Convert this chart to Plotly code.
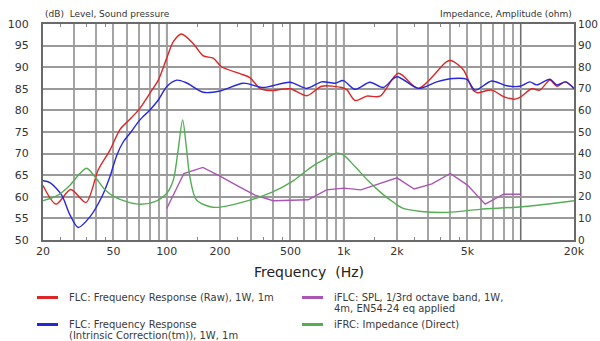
import plotly.graph_objects as go

# ── Datos ───────────────────────────────────────────────────────────────────
FREQ_RAW = [20, 23.7, 28.7, 35, 41, 47.8, 54.5, 60.7, 70, 80.4, 89.6, 100, 109, 121,
            141, 161, 183, 204, 259, 295, 336, 383, 497, 618, 751, 974, 1040, 1158,
            1349, 1604, 2035, 2637, 3817, 4075, 4740, 5397, 5700, 6856, 8000, 9285,
            9900, 11540, 12800, 14630, 16000, 17800, 20000]
SPL_RAW = [62.6, 58.3, 61.7, 58.7, 66.2, 70.8, 75.6, 77.6, 80.3, 84.0, 87.0, 92.1, 95.9, 97.7,
           95.5, 92.6, 92.1, 90.1, 88.5, 87.6, 85.1, 84.6, 85.0, 83.4, 85.6, 85.3, 84.8, 82.3,
           83.3, 83.3, 88.6, 85.1, 91.3, 91.5, 89.4, 84.6, 84.1, 84.7, 83.2, 82.6,
           83.0, 85.0, 84.7, 87.0, 85.6, 86.6, 85.1]

FREQ_IC = [20, 21.9, 25.5, 28.4, 31.6, 36.9, 43, 47.8, 52.3, 57, 62, 70.6, 80.4, 89.6,
           100, 114, 129, 161, 200, 271, 350, 497, 618, 751, 893, 995, 1158, 1407,
           1673, 1991, 2637, 3350, 4160, 4955, 5520, 6856, 8330, 9906, 11280, 12300,
           14630, 16000, 18000, 20000]
SPL_IC = [63.7, 63.3, 60.4, 55.8, 52.9, 55.4, 60.0, 64.7, 69.7, 72.8, 74.7, 77.8, 80.1, 82.4,
          85.5, 87.0, 86.4, 84.2, 84.5, 86.3, 85.3, 86.5, 85.1, 86.6, 86.3, 86.9, 84.9, 86.5,
          85.3, 87.8, 85.1, 86.6, 87.4, 87.2, 84.7, 86.8, 85.7, 85.6, 86.6, 85.9,
          87.2, 85.9, 86.6, 85.0]

BANDAS = [100, 125, 160, 200, 250, 315, 400, 500, 630, 800, 1000, 1250, 1600, 2000,
          2500, 3150, 4000, 5000, 6300, 8000, 10000]
SPL_BANDAS = [57.3, 65.4, 66.8, 64.8, 62.6, 60.4, 59.1, 59.2, 59.3, 61.6, 62.0, 61.6, 63.0,
              64.4, 61.8, 63.0, 65.4, 62.7, 58.3, 60.6, 60.6]

FREQ_Z = [20, 23.9, 28.4, 32.3, 35.3, 39.2, 44.9, 52.3, 69, 85.9, 100, 109, 116, 123,
          129, 135, 147, 176, 200, 288, 391, 510, 605, 691, 782, 913, 995, 1158, 1376,
          1640, 1944, 2168, 2740, 3870, 5880, 10130, 20000]
IMPEDANCIA = [18.2, 20.4, 25.4, 30.8, 33.2, 29.4, 23.2, 19.4, 16.6, 17.8, 21.6, 27.8, 41.6, 55.6,
              43.2, 29.4, 18.6, 15.4, 15.2, 18.2, 22.0, 27.0, 31.6, 35.0, 37.4, 40.2, 39.4, 34.0, 27.4,
              21.6, 17.0, 14.6, 13.2, 12.8, 14.2, 15.4, 18.2]

ETIQUETAS_X = {20: "20", 50: "50", 100: "100", 200: "200", 500: "500", 1000: "1k",
               2000: "2k", 5000: "5k", 10000: "10k", 20000: "20k"}

# ── Paleta ──────────────────────────────────────────────────────────────────
COLORES = {
    "rojo":    "#dd2626",
    "azul":    "#2626dd",
    "violeta": "#aa55b4",
    "verde":   "#55ad55",
    "texto":   "#333333",
    "grilla":  "#a4a4a4",
    "borde":   "#6a6a6a",
}
FUENTE = "DejaVu Sans"

# grilla logarítmica 20 .. 20k
grid_x = [m * 10 ** d for d in (1, 2, 3) for m in range(1, 10)] + [20000]
grid_x = [v for v in grid_x if 20 <= v <= 20000]
texto_x = [ETIQUETAS_X.get(v, "") for v in grid_x]
menores_x = [m * 10 ** d for d in (1, 2, 3) for m in (1.5, 2.5, 3.5, 4.5)]
menores_x = [v for v in menores_x if 20 < v < 20000]

fig = go.Figure()
fig.add_trace(go.Scatter(x=FREQ_RAW, y=SPL_RAW, mode="lines",
                         line=dict(color=COLORES["rojo"], width=1.4, shape="spline", smoothing=0.8)))
fig.add_trace(go.Scatter(x=FREQ_IC, y=SPL_IC, mode="lines",
                         line=dict(color=COLORES["azul"], width=1.4, shape="spline", smoothing=0.8)))
fig.add_trace(go.Scatter(x=BANDAS, y=SPL_BANDAS, mode="lines",
                         line=dict(color=COLORES["violeta"], width=1.4)))
fig.add_trace(go.Scatter(x=FREQ_Z, y=IMPEDANCIA, mode="lines", yaxis="y2",
                         line=dict(color=COLORES["verde"], width=1.4, shape="spline", smoothing=0.8)))

# líneas de década más oscuras
for v in (100, 1000, 10000):
    fig.add_shape(type="line", xref="x", yref="paper", x0=v, x1=v, y0=0, y1=1,
                  line=dict(color="#707070", width=1.6), layer="below")

# ── Leyenda manual (2 columnas) ─────────────────────────────────────────────
W, H, L, B = 531, 216, 43, 240   # área de trazado en px


def px_x(x):
    return (x - L) / W


def px_y(y):
    return (B - y) / H


items = [
    (37, 297.5, COLORES["rojo"], ["FLC: Frequency Response (Raw), 1W, 1m"]),
    (37, 324.5, COLORES["azul"], ["FLC: Frequency Response", "(Intrinsic Correction(tm)), 1W, 1m"]),
    (302, 297.5, COLORES["violeta"], ["iFLC: SPL, 1/3rd octave band, 1W,", "4m, EN54-24 eq applied"]),
    (302, 324.5, COLORES["verde"], ["iFRC: Impedance (Direct)"]),
]
for x0, y0, col, lineas in items:
    fig.add_shape(type="line", xref="paper", yref="paper",
                  x0=px_x(x0), x1=px_x(x0 + 21), y0=px_y(y0), y1=px_y(y0),
                  line=dict(color=col, width=3))
    for i, t in enumerate(lineas):
        fig.add_annotation(x=px_x(x0 + 30), y=px_y(y0 - 0.5 + 11 * i), xref="paper", yref="paper",
                           text=t, showarrow=False, xanchor="left", yanchor="middle",
                           font=dict(size=10, color="#3a3a3a", family=FUENTE))

fig.add_annotation(x=0, y=px_y(14), xref="paper", yref="paper",
                   text="(dB)\u00a0\u00a0Level, Sound pressure", showarrow=False,
                   xanchor="left", yanchor="middle",
                   font=dict(size=9, color=COLORES["texto"], family=FUENTE))
fig.add_annotation(x=1, y=px_y(14), xref="paper", yref="paper",
                   text="Impedance, Amplitude (ohm)", showarrow=False,
                   xanchor="right", yanchor="middle",
                   font=dict(size=9, color=COLORES["texto"], family=FUENTE))
fig.add_annotation(x=0.5, y=px_y(272), xref="paper", yref="paper",
                   text="Frequency\u00a0\u00a0(Hz)", showarrow=False,
                   xanchor="center", yanchor="middle",
                   font=dict(size=14, color="#222222", family=FUENTE))

fig.update_layout(
    width=600, height=341,
    margin=dict(l=43, r=26, t=24, b=101),
    plot_bgcolor="white", paper_bgcolor="white",
    showlegend=False,
    font=dict(family=FUENTE, color=COLORES["texto"], size=11),
    xaxis=dict(
        type="log", range=[1.30103, 4.30103],
        tickmode="array", tickvals=grid_x, ticktext=texto_x,
        showgrid=True, gridcolor=COLORES["grilla"], gridwidth=1.5,
        ticks="", ticklabelstandoff=0, automargin=False,
        showline=True, linecolor=COLORES["borde"], linewidth=2, mirror="ticks",
        minor=dict(tickvals=menores_x, ticks="inside", ticklen=3,
                   tickcolor="#888888", showgrid=False),
        zeroline=False, tickfont=dict(size=11),
    ),
    yaxis=dict(
        range=[50, 100], tick0=50, dtick=5,
        showgrid=True, gridcolor="#9a9a9a", gridwidth=1.5,
        ticks="", ticklabelstandoff=10, automargin=False,
        showline=True, linecolor=COLORES["borde"], linewidth=2, mirror=True,
        zeroline=False, tickfont=dict(size=11),
    ),
    yaxis2=dict(
        range=[0, 100], tick0=0, dtick=10, overlaying="y", side="right",
        showgrid=False, ticks="", ticklabelstandoff=3, showline=False,
        automargin=False, zeroline=False, tickfont=dict(size=10.5),
    ),
)

fig.write_html("out.html", config={"displayModeBar": False},
               post_script="document.body.style.margin = '0px';")
